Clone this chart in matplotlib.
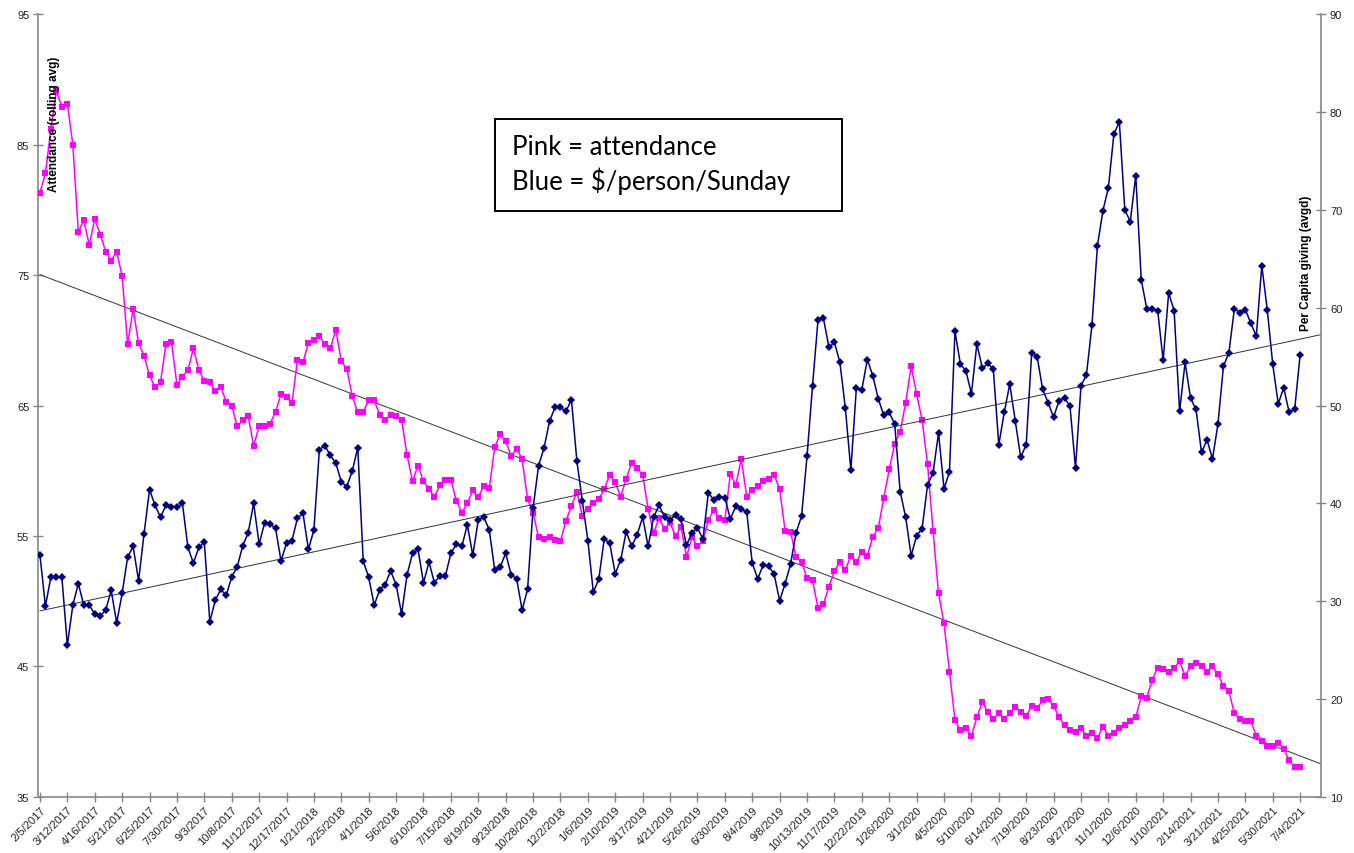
"""
Attendance vs per-capita giving, weekly rolling averages 2017-2021
"""
import matplotlib
matplotlib.use('Agg')
import matplotlib.pyplot as plt
from matplotlib.patches import Rectangle
import numpy as np
import pandas as pd

plt.rcParams['font.family'] = ['Liberation Sans', 'DejaVu Sans']

# weekly Sundays from 2/5/2017 to 7/4/2021
weeks = pd.date_range('2017-02-05', periods=231, freq='7D')

attendance = [
    81.3, 82.8, 86.2, 89.1, 87.9, 88.1, 85.0, 78.3, 79.2, 77.3,
    79.3, 78.1, 76.8, 76.1, 76.8, 74.9, 69.7, 72.4, 69.8, 68.8,
    67.3, 66.4, 66.8, 69.7, 69.9, 66.6, 67.2, 67.7, 69.4, 67.7,
    66.9, 66.8, 66.1, 66.4, 65.3, 65.0, 63.4, 63.9, 64.2, 61.9,
    63.4, 63.4, 63.6, 64.5, 65.9, 65.65, 65.2, 68.5, 68.3, 69.8,
    70.0, 70.3, 69.7, 69.4, 70.8, 68.4, 67.8, 65.7, 64.5, 64.5,
    65.4, 65.4, 64.3, 63.9, 64.3, 64.2, 63.9, 61.2, 59.2, 60.4,
    59.2, 58.6, 58.0, 58.9, 59.3, 59.3, 57.7, 56.8, 57.5, 58.5,
    58.0, 58.8, 58.65, 61.8, 62.8, 62.3, 61.1, 61.7, 60.9, 57.8,
    56.8, 54.9, 54.8, 54.9, 54.7, 54.6, 56.15, 57.3, 58.4, 56.5,
    57.1, 57.5, 57.8, 58.6, 59.7, 59.1, 58.0, 59.4, 60.6, 60.2,
    59.7, 57.1, 55.2, 56.4, 55.5, 56.0, 55.0, 55.7, 53.4, 54.9,
    54.2, 54.6, 56.2, 57.0, 56.4, 56.2, 59.75, 58.9, 60.9, 58.0,
    58.55, 58.8, 59.2, 59.4, 59.7, 58.6, 55.4, 55.3, 53.4, 53.0,
    51.8, 51.6, 49.5, 49.8, 51.1, 52.3, 53.0, 52.4, 53.5, 53.0,
    53.8, 53.5, 54.9, 55.6, 57.9, 60.1, 62.05, 63.0, 65.2, 68.0,
    65.9, 63.9, 60.5, 55.4, 50.6, 48.3, 44.6, 40.9, 40.1, 40.3,
    39.65, 41.1, 42.3, 41.5, 41.0, 41.4, 41.0, 41.4, 41.9, 41.5,
    41.2, 41.95, 41.8, 42.4, 42.5, 42.0, 41.1, 40.5, 40.1, 40.0,
    40.3, 39.7, 39.9, 39.5, 40.4, 39.7, 39.9, 40.3, 40.5, 40.8,
    41.1, 42.7, 42.6, 44.0, 44.9, 44.8, 44.6, 44.9, 45.4, 44.3,
    45.0, 45.3, 45.05, 44.6, 45.0, 44.4, 43.5, 43.1, 41.4, 41.0,
    40.8, 40.8, 39.7, 39.3, 38.9, 38.9, 39.1, 38.7, 37.8, 37.3,
    37.3,
]

giving = [
    34.7, 29.5, 32.5, 32.45, 32.45, 25.5, 29.6, 31.8, 29.6, 29.6,
    28.7, 28.5, 29.1, 31.1, 27.8, 30.8, 34.5, 35.6, 32.1, 36.9,
    41.4, 39.8, 38.6, 39.8, 39.6, 39.6, 40.0, 35.5, 33.9, 35.5,
    36.05, 27.9, 30.1, 31.2, 30.6, 32.5, 33.5, 35.65, 37.0, 40.0,
    35.85, 38.0, 37.9, 37.45, 34.1, 35.95, 36.2, 38.5, 39.0, 35.3,
    37.3, 45.5, 45.9, 44.9, 44.1, 42.2, 41.7, 43.3, 45.7, 34.1,
    32.45, 29.6, 31.15, 31.7, 33.1, 31.7, 28.7, 32.7, 34.9, 35.3,
    31.9, 34.0, 31.9, 32.6, 32.6, 34.9, 35.85, 35.6, 37.8, 34.7,
    38.3, 38.6, 37.3, 33.2, 33.5, 34.9, 32.7, 32.3, 29.1, 31.25,
    39.5, 43.85, 45.65, 48.4, 49.8, 49.8, 49.4, 50.6, 44.3, 40.2,
    36.2, 30.9, 32.3, 36.4, 35.9, 32.8, 34.25, 37.1, 35.6, 36.8,
    38.6, 35.6, 38.6, 39.8, 38.6, 38.3, 38.8, 38.4, 35.7, 37.0,
    37.5, 36.35, 41.1, 40.3, 40.7, 40.6, 38.4, 39.7, 39.4, 39.1,
    33.9, 32.3, 33.7, 33.6, 32.75, 30.05, 31.8, 33.8, 37.0, 38.7,
    44.8, 52.0, 58.7, 58.9, 55.95, 56.45, 54.4, 49.7, 43.4, 51.75,
    51.6, 54.7, 53.05, 50.7, 49.0, 49.3, 48.1, 41.2, 38.6, 34.65,
    36.7, 37.4, 41.9, 43.1, 47.2, 41.5, 43.2, 57.6, 54.2, 53.55,
    51.2, 56.3, 53.8, 54.3, 53.7, 46.0, 49.3, 52.2, 48.45, 44.7,
    46.0, 55.4, 55.0, 51.65, 50.3, 48.8, 50.5, 50.8, 49.9, 43.6,
    52.0, 53.15, 58.2, 66.3, 69.9, 72.25, 77.7, 79.0, 70.0, 68.8,
    73.5, 62.85, 59.9, 59.9, 59.7, 54.6, 61.5, 59.7, 49.4, 54.4,
    50.75, 49.6, 45.2, 46.5, 44.55, 48.1, 54.0, 55.4, 59.9, 59.5,
    59.8, 58.4, 57.1, 64.3, 59.8, 54.2, 50.2, 51.8, 49.3, 49.6,
    55.2,
]

week_labels = [f'{d.month}/{d.day}/{d.year}' for d in weeks]
att_ticks = [35, 45, 55, 65, 75, 85, 95]
giv_ticks = [10, 20, 30, 40, 50, 60, 70, 80, 90]

PINK = '#FF00FF'
NAVY = '#000080'
AXIS_GREY = '#868686'

x = np.arange(len(weeks))
x_end = 233.8

fig = plt.figure(figsize=(13.54, 8.54), dpi=100)
ax = fig.add_axes([0.0283, 0.0656, 0.9473, 0.9168])
ax2 = ax.twinx()

# attendance (left axis)
ax.plot(x, attendance, color=PINK, lw=1.1, marker='s', ms=4.4,
        markeredgewidth=0, zorder=3)
# giving (right axis)
ax2.plot(x, giving, color=NAVY, lw=1.1, marker='D', ms=3.7,
         markeredgewidth=0, zorder=3)

# linear trend lines, extended to the right edge of the plot
xt = np.array([x[0], x_end])
p_att = np.polyfit(x, attendance, 1)
p_giv = np.polyfit(x, giving, 1)
ax.plot(xt, np.polyval(p_att, xt), color='#333333', lw=0.7, zorder=2)
ax2.plot(xt, np.polyval(p_giv, xt), color='#333333', lw=0.7, zorder=2)

ax.set_xlim(-0.3, x_end)
ax.set_ylim(35, 95)
ax2.set_ylim(10, 90)
ax.set_yticks(att_ticks)
ax2.set_yticks(giv_ticks)

ax.set_xticks(x[::5])
ax.set_xticklabels(week_labels[::5], rotation=45, ha='right',
                   rotation_mode='anchor')

for a in (ax, ax2):
    for s in a.spines.values():
        s.set_visible(False)
    a.tick_params(direction='inout', length=7, width=1, color=AXIS_GREY,
                  labelsize=8, labelcolor='#222222', pad=3)
ax.spines['left'].set_visible(True)
ax.spines['bottom'].set_visible(True)
ax2.spines['right'].set_visible(True)
for s in (ax.spines['left'], ax.spines['bottom'], ax2.spines['right']):
    s.set_color(AXIS_GREY)
    s.set_linewidth(1.2)
ax.tick_params(axis='x', pad=2, labelsize=8)

# axis titles sit inside the plot area, as in the original sheet
ax.text(0.0122, 0.860, 'Attendance (rolling avg)', transform=ax.transAxes,
        rotation=90, ha='center', va='center', fontsize=8.5,
        fontweight='bold', color='black')
ax.text(0.988, 0.683, 'Per Capita giving (avgd)', transform=ax.transAxes,
        rotation=90, ha='center', va='center', fontsize=8.5,
        fontweight='bold', color='black')

# note box (fixed-size text box on the sheet)
fig.add_artist(Rectangle((0.3656, 0.7518), 0.2563, 0.1077,
                         transform=fig.transFigure, facecolor='white',
                         edgecolor='black', linewidth=1.4, zorder=5))
note_font = dict(fontsize=18.5, family=['Lato', 'DejaVu Sans'],
                 ha='left', va='baseline', zorder=6)
fig.text(0.378, 0.8185, 'Pink = attendance', **note_font)
fig.text(0.378, 0.7775, 'Blue = $/person/Sunday', **note_font)

fig.savefig('out.png', dpi=100, facecolor='white')
